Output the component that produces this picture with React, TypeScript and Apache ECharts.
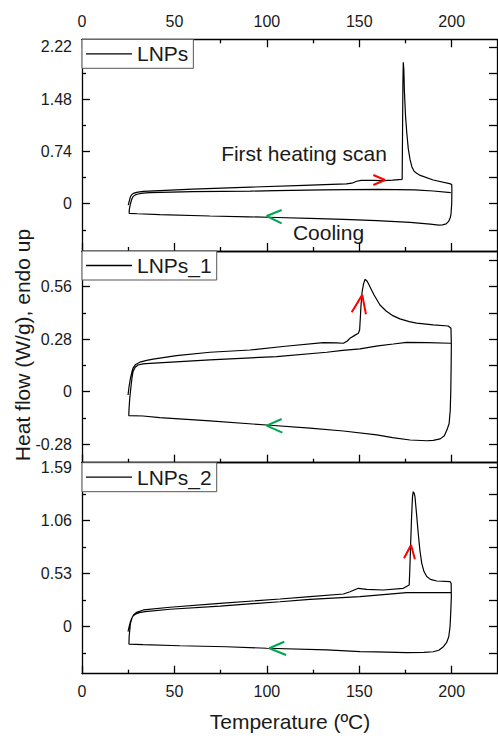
import React, { useEffect, useRef } from "react";
import * as echarts from "echarts";

// Temperature axis
const X_MAX = 224.5;
const X_MAJOR = [0, 50, 100, 150, 200];
const X_MINOR = [25, 75, 125, 175];

// Heat-flow axes, one per stacked panel
const Y1_RANGE = [-0.669, 2.326];
const Y1_MAJOR = [0, 0.74, 1.48, 2.22];
const Y1_MINOR = [-0.37, 0.37, 1.11, 1.85];

const Y2_RANGE = [-0.379, 0.75];
const Y2_MAJOR = [-0.28, 0, 0.28, 0.56];
const Y2_MINOR = [-0.14, 0.14, 0.42, 0.7];

const Y3_RANGE = [-0.469, 1.636];
const Y3_MAJOR = [0, 0.53, 1.06, 1.59];
const Y3_MINOR = [-0.265, 0.265, 0.795, 1.325];

const SAMPLE_NAMES = ["LNPs", "LNPs_1", "LNPs_2"];

// DSC traces: first heating -> hold at 200 -> cooling -> second heating
const LNPS: number[][] = [
  [25, -0.02], [25.6, 0.04], [26.2, 0.1], [27, 0.13], [28.2, 0.15], [29.5, 0.16],
  [33, 0.175], [45, 0.19], [60, 0.205], [91, 0.235], [120, 0.26], [135, 0.273],
  [143, 0.28], [146, 0.29], [148.6, 0.318], [151, 0.33], [157.6, 0.33], [163, 0.328],
  [168, 0.335], [173.2, 0.345], [173.4, 1.0], [173.6, 1.7], [173.8, 2.0], [174.1, 1.9],
  [174.4, 1.6], [175, 1.25], [175.7, 1.0], [176.5, 0.78], [177.5, 0.62], [178.5, 0.52],
  [179.5, 0.465], [181, 0.43], [183, 0.4], [190, 0.335], [199.4, 0.28], [200, 0.27],
  [200.1, 0.2], [200, 0], [199.6, -0.15], [199.2, -0.2], [198.3, -0.25], [197, -0.285],
  [195, -0.3], [193, -0.302], [188.4, -0.29], [177.5, -0.265], [159.5, -0.24],
  [141.4, -0.222], [123.3, -0.207], [105.3, -0.195], [90, -0.185], [69.2, -0.174],
  [42.1, -0.155], [30, -0.142], [25.5, -0.136],
  [25.6, -0.08], [26.2, 0.0], [27, 0.07], [27.6, 0.1], [28.8, 0.125], [30.3, 0.137],
  [33, 0.15], [36.7, 0.157], [60, 0.17], [91, 0.178], [105, 0.185], [130, 0.195],
  [160, 0.203], [180, 0.195], [190, 0.18], [199.5, 0.158],
];

const LNPS_1: number[][] = [
  [24.9, -0.018], [25.5, 0.03], [26.2, 0.071], [27, 0.105], [27.6, 0.125], [29, 0.145],
  [31.3, 0.157], [35, 0.167], [38.5, 0.173], [51.1, 0.192], [69.2, 0.21], [90.9, 0.222],
  [110, 0.242], [130.5, 0.261], [137.8, 0.26], [141.4, 0.258], [143.5, 0.27], [145, 0.285],
  [147.5, 0.3], [149.5, 0.311], [150.2, 0.33], [150.6, 0.4], [151, 0.47], [151.5, 0.53],
  [152.3, 0.575], [153.1, 0.599], [154, 0.592], [155, 0.575], [156.5, 0.545], [158, 0.515],
  [161.2, 0.462], [164.5, 0.43], [168.4, 0.404], [172, 0.388], [177, 0.373], [181, 0.365],
  [190, 0.356], [198.1, 0.35], [199.6, 0.338],
  [199.8, 0.25], [199.7, 0.142], [199.5, 0.0], [199.2, -0.1], [198.6, -0.17], [197.4, -0.205],
  [196, -0.235], [193.8, -0.252], [190, -0.26], [186.6, -0.262], [177.5, -0.258],
  [168, -0.245], [159.5, -0.231], [141.4, -0.21], [123.3, -0.195], [99.9, -0.178],
  [69.2, -0.156], [42.1, -0.139], [33, -0.13], [25.3, -0.128],
  [25.4, -0.1], [25.8, -0.04], [26.2, 0.0], [27, 0.07], [27.6, 0.107], [28.8, 0.13],
  [30.3, 0.142], [33, 0.148], [36.7, 0.151], [69.2, 0.169], [105.3, 0.187], [132.4, 0.21],
  [141, 0.22], [150.4, 0.228], [160, 0.244], [168.4, 0.254], [175.6, 0.263], [186.6, 0.261],
  [199.6, 0.258],
];

const LNPS_2: number[][] = [
  [24.9, -0.05], [25.5, 0.0], [26.2, 0.05], [26.9, 0.084], [28, 0.12], [29.6, 0.144],
  [33.2, 0.167], [47.6, 0.194], [74.6, 0.233], [107.1, 0.276], [123.3, 0.3], [141.4, 0.326],
  [145, 0.349], [149.5, 0.383], [154, 0.373], [163, 0.366], [173.8, 0.383], [177, 0.416],
  [177.4, 0.6], [177.8, 0.83], [178.3, 1.1], [178.8, 1.3], [179.2, 1.347], [179.7, 1.33],
  [180.1, 1.3], [181, 1.12], [181.9, 0.93], [182.8, 0.76], [183.8, 0.632], [185, 0.55],
  [186.5, 0.5], [188.5, 0.472], [191.9, 0.456], [199.1, 0.449], [199.7, 0.433],
  [199.8, 0.3], [199.5, 0.15], [199.1, 0.0], [198.4, -0.1], [197.2, -0.16], [195.5, -0.2],
  [193, -0.235], [190, -0.25], [185, -0.256], [175.6, -0.259], [159.5, -0.252],
  [150.4, -0.249], [132.4, -0.232], [99.9, -0.215], [78.2, -0.2], [53, -0.19], [33, -0.178],
  [25.4, -0.173],
  [25.5, -0.1], [26.2, 0.034], [27.3, 0.1], [28.8, 0.124], [31, 0.14], [34.1, 0.15],
  [47.6, 0.174], [74.6, 0.206], [107.1, 0.249], [123.3, 0.273], [150.4, 0.3],
  [175.6, 0.34], [190, 0.341], [199.6, 0.34],
];

// Direction markers (heating = red, cooling = green), as polylines end-tip-end
const HEAT_ARROWS: number[][][] = [
  [[157.6, 0.406], [163.9, 0.335], [157.6, 0.265]],
  [[145.9, 0.423], [151.6, 0.516], [153.6, 0.413]],
  [[174.2, 0.682], [178.0, 0.815], [180.1, 0.672]],
];
const COOL_ARROWS: number[][][] = [
  [[108.0, -0.089], [99.9, -0.174], [108.0, -0.277]],
  [[108.0, -0.146], [99.9, -0.181], [108.4, -0.219]],
  [[109.4, -0.15], [101.3, -0.215], [110.4, -0.282]],
];

const FONT = "'Liberation Sans', Arial, Helvetica, sans-serif";
const INK = "#1a1a1a";
const FRAME = { color: "#000", width: 1.3 };

const GRIDS = [
  { left: 82, right: 1, top: 39.3, height: 211.7 },
  { left: 82, right: 1, top: 251, height: 211.7 },
  { left: 82, right: 1, top: 462.7, height: 211 },
];

const tickLabel = {
  fontSize: 16,
  fontFamily: FONT,
  color: INK,
};

function xAxesFor(g: number, topTicks: boolean, topLabels: boolean, bottomLabels: boolean) {
  const base = {
    type: "value",
    gridIndex: g,
    min: 0,
    max: X_MAX,
    splitLine: { show: false },
  };
  return [
    {
      ...base,
      position: "bottom",
      axisLine: { show: true, onZero: false, lineStyle: FRAME },
      axisTick: { show: true, inside: true, length: 8, customValues: X_MAJOR, lineStyle: FRAME },
      axisLabel: { show: bottomLabels, customValues: X_MAJOR, margin: 10, ...tickLabel },
    },
    {
      ...base,
      position: "bottom",
      axisLine: { show: false, onZero: false },
      axisTick: { show: true, inside: true, length: 4, customValues: X_MINOR, lineStyle: FRAME },
      axisLabel: { show: false },
    },
    {
      ...base,
      position: "top",
      axisLine: { show: true, onZero: false, lineStyle: FRAME },
      axisTick: { show: topTicks, inside: true, length: 8, customValues: X_MAJOR, lineStyle: FRAME },
      axisLabel: { show: topLabels, customValues: X_MAJOR, margin: 10, ...tickLabel },
    },
    {
      ...base,
      position: "top",
      axisLine: { show: false, onZero: false },
      axisTick: { show: topTicks, inside: true, length: 4, customValues: X_MINOR, lineStyle: FRAME },
      axisLabel: { show: false },
    },
  ];
}

function yAxesFor(g: number, range: number[], major: number[], minor: number[]) {
  const base = {
    type: "value",
    gridIndex: g,
    min: range[0],
    max: range[1],
    splitLine: { show: false },
  };
  const all = [...major, ...minor].sort((a, b) => a - b);
  return [
    {
      ...base,
      position: "left",
      axisLine: { show: true, onZero: false, lineStyle: FRAME },
      axisTick: { show: true, inside: true, length: 8, customValues: major, lineStyle: FRAME },
      axisLabel: {
        show: true,
        customValues: major,
        margin: 10,
        formatter: (v: number) => String(v),
        ...tickLabel,
      },
    },
    {
      ...base,
      position: "left",
      axisLine: { show: false, onZero: false },
      axisTick: { show: true, inside: true, length: 4, customValues: minor, lineStyle: FRAME },
      axisLabel: { show: false },
    },
    {
      ...base,
      position: "right",
      axisLine: { show: true, onZero: false, lineStyle: FRAME },
      axisTick: { show: true, inside: true, length: 8, customValues: all, lineStyle: FRAME },
      axisLabel: { show: false },
    },
  ];
}

function arrowSeries(pts: number[][], color: string, g: number) {
  return {
    type: "line",
    xAxisIndex: g * 4,
    yAxisIndex: g * 3,
    data: pts,
    symbol: "none",
    silent: true,
    z: 3,
    lineStyle: { color, width: 2 },
    animation: false,
  };
}

export default function App() {
  const ref = useRef<HTMLDivElement>(null);

  useEffect(() => {
    if (!ref.current) return;
    const chart = echarts.init(ref.current, undefined, { renderer: "svg" });

    const traces = [LNPS, LNPS_1, LNPS_2];
    const ranges = [Y1_RANGE, Y2_RANGE, Y3_RANGE];
    const majors = [Y1_MAJOR, Y2_MAJOR, Y3_MAJOR];
    const minors = [Y1_MINOR, Y2_MINOR, Y3_MINOR];

    const xAxis = [
      ...xAxesFor(0, true, true, false),
      ...xAxesFor(1, false, false, false),
      ...xAxesFor(2, false, false, true),
    ];
    const yAxis = [0, 1, 2].flatMap((g) => yAxesFor(g, ranges[g], majors[g], minors[g]));

    const series: any[] = [];
    traces.forEach((data, g) => {
      series.push({
        name: SAMPLE_NAMES[g],
        type: "line",
        xAxisIndex: g * 4,
        yAxisIndex: g * 3,
        data,
        symbol: "none",
        showSymbol: false,
        smooth: false,
        z: 2,
        lineStyle: { color: "#000", width: 1.2 },
        itemStyle: { color: "#000" },
      });
      series.push(arrowSeries(HEAT_ARROWS[g], "#ff0000", g));
      series.push(arrowSeries(COOL_ARROWS[g], "#00a651", g));
    });

    const legend = GRIDS.map((grid, g) => ({
      data: [SAMPLE_NAMES[g]],
      left: 82,
      top: grid.top,
      orient: "horizontal",
      selectedMode: false,
      icon: "rect",
      itemWidth: 46,
      itemHeight: 1.3,
      padding: [4, 5, 4, 4],
      backgroundColor: "#fff",
      borderColor: "#555",
      borderWidth: 1,
      borderRadius: 0,
      z: 10,
      textStyle: { fontSize: 21, lineHeight: 21, fontFamily: FONT, color: INK },
    }));

    const textStyle = (text: string, size = 21) => ({
      text,
      font: `${size}px ${FONT}`,
      fill: INK,
      align: "center",
      verticalAlign: "middle",
      textAlign: "center",
      textVerticalAlign: "middle",
    });

    chart.setOption({
      animation: false,
      backgroundColor: "#fff",
      grid: GRIDS,
      xAxis,
      yAxis,
      legend,
      series,
      graphic: [
        { type: "text", x: 22, y: 345, rotation: Math.PI / 2, style: textStyle("Heat flow (W/g), endo up") },
        { type: "text", x: 290, y: 721.7, style: textStyle("Temperature (ºC)") },
        { type: "text", x: 304, y: 153, style: textStyle("First heating scan") },
        { type: "text", x: 328.5, y: 232, style: textStyle("Cooling") },
      ],
    });

    return () => chart.dispose();
  }, []);

  return (
    <div
      ref={ref}
      style={{ position: "fixed", left: 0, top: 0, width: 498, height: 738, background: "#fff" }}
    />
  );
}
